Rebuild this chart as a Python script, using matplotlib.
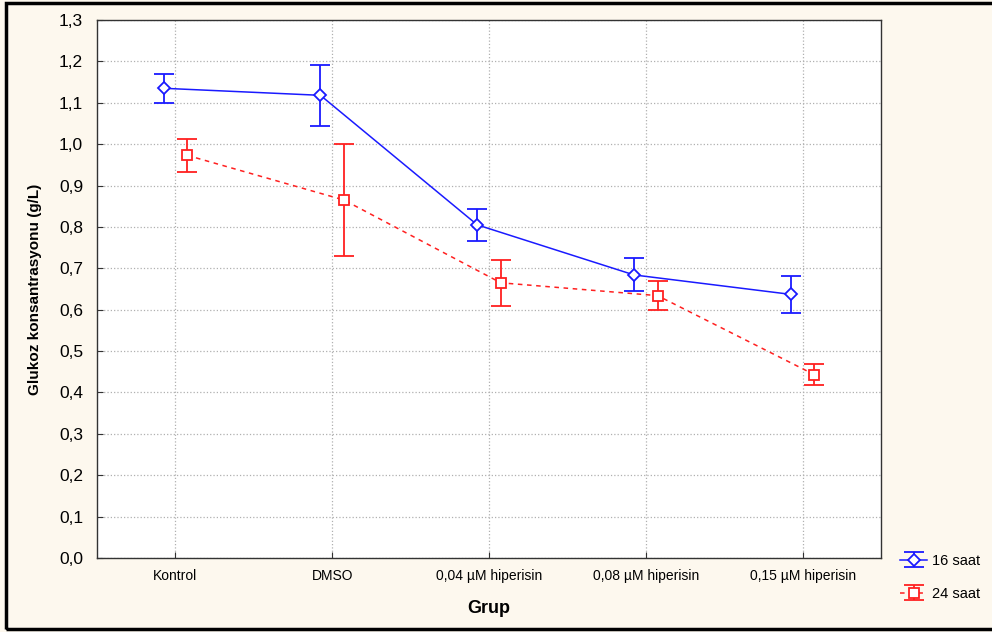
import numpy as np
import matplotlib
matplotlib.use('Agg')
import matplotlib.pyplot as plt
from matplotlib.patches import Rectangle

plt.rcParams['font.family'] = ['Liberation Sans', 'DejaVu Sans']

groups = ['Kontrol', 'DMSO', '0,04 µM hiperisin', '0,08 µM hiperisin', '0,15 µM hiperisin']
mean_16 = [1.135, 1.118, 0.805, 0.684, 0.637]
err_16 = [0.035, 0.073, 0.038, 0.040, 0.045]
mean_24 = [0.973, 0.865, 0.665, 0.634, 0.443]
err_24 = [0.040, 0.136, 0.056, 0.035, 0.026]
y_ticks = [0.0, 0.1, 0.2, 0.3, 0.4, 0.5, 0.6, 0.7, 0.8, 0.9, 1.0, 1.1, 1.2, 1.3]

bg = '#fdf8ee'
fig = plt.figure(figsize=(9.92, 6.32), dpi=100, facecolor=bg)
ax = fig.add_axes([97 / 992, 1 - 558 / 632, 784 / 992, 538 / 632])
ax.set_facecolor('white')

x = np.arange(1, len(groups) + 1)
off = 0.075

ax.errorbar(x - off, mean_16, yerr=err_16, color='#1a1aff', lw=1.1, marker='D', ms=6,
            mfc='white', mec='#1a1aff', mew=1.3, capsize=7, capthick=1.3, elinewidth=1.3,
            label='16 saat', zorder=3)
ax.errorbar(x + off, mean_24, yerr=err_24, color='#ff2020', lw=1.1, ls=(0, (3, 3)),
            marker='s', ms=7, mfc='white', mec='#ff2020', mew=1.3, capsize=7,
            capthick=1.3, elinewidth=1.3, label='24 saat', zorder=3)

ax.set_xlim(0.5, 5.5)
ax.set_ylim(0, 1.3)
ax.set_xticks(x)
ax.set_xticklabels(groups, fontsize=10)
ax.set_yticks(y_ticks)
ax.set_yticklabels([f'{v:.1f}'.replace('.', ',') for v in y_ticks], fontsize=12.5)
ax.tick_params(axis='both', direction='in', length=4, color='#333333', pad=8)
ax.tick_params(axis='y', pad=10)
ax.grid(True, color='#b0b0b0', ls=':', lw=0.9)
ax.set_axisbelow(True)
for s in ax.spines.values():
    s.set_color('#333333')
    s.set_linewidth(1.0)

ax.set_xlabel('Grup', fontsize=13, fontweight='bold', labelpad=12)
ax.set_ylabel('Glukoz konsantrasyonu (g/L)', fontsize=11, fontweight='bold', labelpad=12)

leg = ax.legend(loc='upper left', bbox_to_anchor=(888 / 992, 1 - 542 / 632),
                bbox_transform=fig.transFigure, frameon=False, fontsize=10.5,
                handlelength=1.9, handletextpad=0.3, labelspacing=1.3,
                borderpad=0.3)

# figure border
fig.patches.append(Rectangle((6 / 992, 3 / 632), 1.2, 626 / 632, transform=fig.transFigure,
                             fill=False, ec='black', lw=2.5))

fig.savefig('out.png', dpi=100, facecolor=bg)
